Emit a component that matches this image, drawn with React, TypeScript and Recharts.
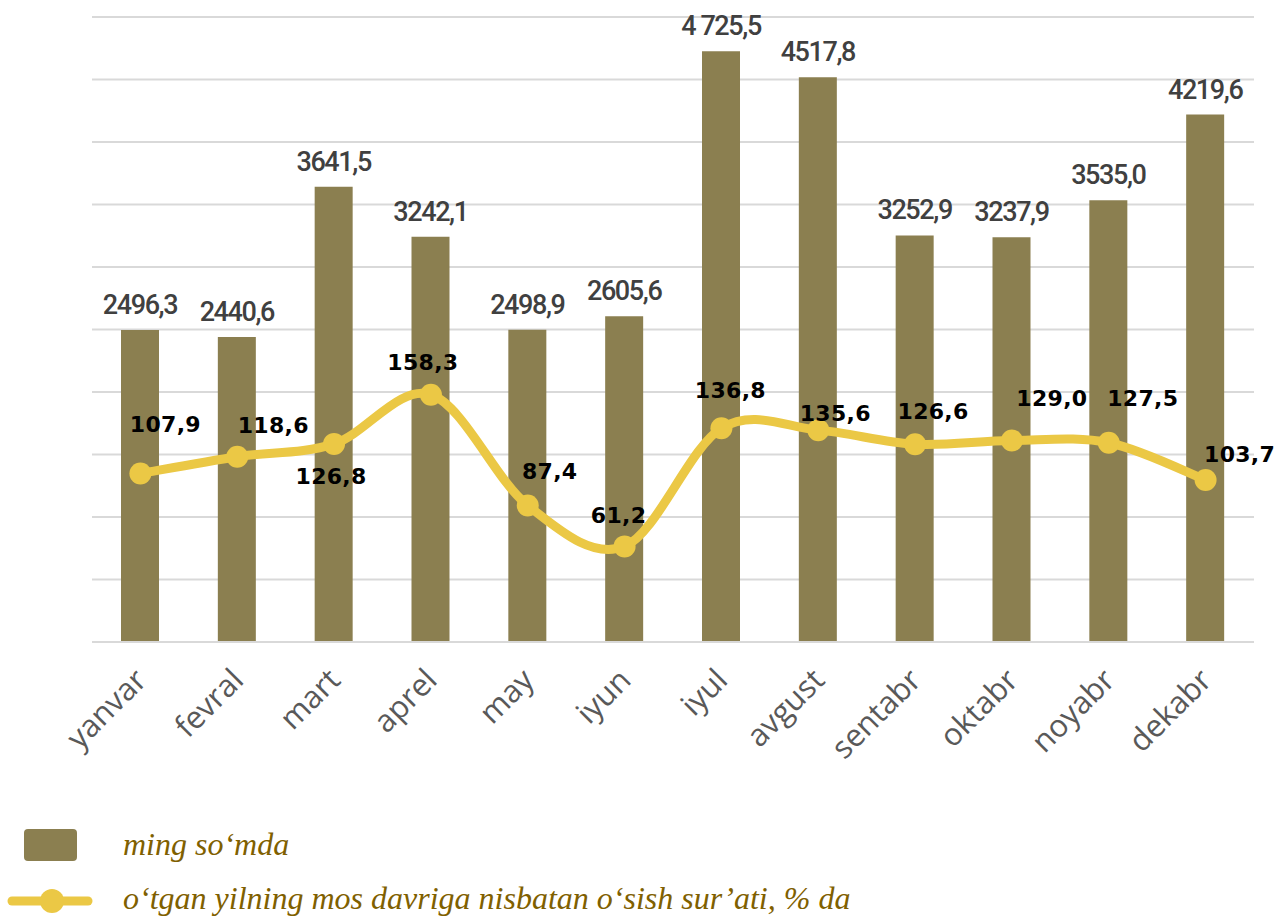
import * as React from "react";
import {
  ComposedChart,
  Bar,
  Line,
  XAxis,
  YAxis,
  CartesianGrid,
  LabelList,
} from "recharts";

const months = [
  "yanvar", "fevral", "mart", "aprel", "may", "iyun",
  "iyul", "avgust", "sentabr", "oktabr", "noyabr", "dekabr",
];
const amounts = [2496.3, 2440.6, 3641.5, 3242.1, 2498.9, 2605.6, 4725.5, 4517.8, 3252.9, 3237.9, 3535.0, 4219.6];
const amountLabels = [
  "2496,3", "2440,6", "3641,5", "3242,1", "2498,9", "2605,6",
  "4 725,5", "4517,8", "3252,9", "3237,9", "3535,0", "4219,6",
];
const growth = [107.9, 118.6, 126.8, 158.3, 87.4, 61.2, 136.8, 135.6, 126.6, 129.0, 127.5, 103.7];
const leftTicks = [0, 500, 1000, 1500, 2000, 2500, 3000, 3500, 4000, 4500, 5000];

// where each growth label sits relative to its point (dx, dy of the text centre)
const growthLabelShift: [number, number][] = [
  [25, -49], [36, -31], [-3, 33], [-8, -32], [22, -34], [-6, -31],
  [9, -38], [17, -17], [18, -33], [40, -42], [34, -44], [34, -25],
];

const BAR = "#8b7f50";
const LINE = "#ebc845";

const data = months.map((m, i) => ({ month: m, amount: amounts[i], growth: growth[i], label: amountLabels[i] }));

// smoothed line similar to the office-style smoothing (catmull-rom through the points)
const smoothCurve = (context: any) => {
  let pts: [number, number][] = [];
  return {
    areaStart() {},
    areaEnd() {},
    lineStart() {
      pts = [];
    },
    point(x: number, y: number) {
      pts.push([+x, +y]);
    },
    lineEnd() {
      if (!pts.length) return;
      context.moveTo(pts[0][0], pts[0][1]);
      const t = 1 / 6;
      for (let i = 0; i < pts.length - 1; i++) {
        const p0 = pts[Math.max(0, i - 1)];
        const p1 = pts[i];
        const p2 = pts[i + 1];
        const p3 = pts[Math.min(pts.length - 1, i + 2)];
        context.bezierCurveTo(
          p1[0] + (p2[0] - p0[0]) * t,
          p1[1] + (p2[1] - p0[1]) * t,
          p2[0] - (p3[0] - p1[0]) * t,
          p2[1] - (p3[1] - p1[1]) * t,
          p2[0],
          p2[1]
        );
      }
    },
  };
};

const MonthTick = (props: any) => {
  const { x, y, payload } = props;
  const tx = x + 8;
  const ty = y + 32;
  return (
    <text
      x={tx}
      y={ty}
      transform={`rotate(-45, ${tx}, ${ty})`}
      textAnchor="end"
      fill="#595959"
      fontSize={31}
      fontFamily="'Open Sans', 'Noto Sans', sans-serif"
    >
      {payload.value}
    </text>
  );
};

const AmountLabel = (props: any) => {
  const { x, y, width, index } = props;
  return (
    <text
      x={x + width / 2}
      y={y - 16}
      textAnchor="middle"
      fill="#404040"
      fontSize={27}
      fontWeight={500}
      fontFamily="'Roboto', sans-serif"
      letterSpacing={-1.4}
    >
      {amountLabels[index]}
    </text>
  );
};

const GrowthLabel = (props: any) => {
  const { x, y, index, value } = props;
  const [dx, dy] = growthLabelShift[index];
  return (
    <text
      x={x + dx}
      y={y + dy}
      textAnchor="middle"
      dominantBaseline="central"
      fill="#000"
      fontSize={22}
      fontWeight="bold"
      fontFamily="'DejaVu Sans', sans-serif"
      letterSpacing={0.3}
    >
      {Number(value).toFixed(1).replace(".", ",")}
    </text>
  );
};

const legendText: React.CSSProperties = {
  position: "absolute",
  left: 123,
  fontFamily: "'Liberation Serif', serif",
  fontStyle: "italic",
  fontSize: 32,
  lineHeight: "36px",
  color: "#7f6000",
  whiteSpace: "nowrap",
};

export default function App() {
  return (
    <div
      style={{
        position: "absolute",
        left: 0,
        top: 0,
        width: 1275,
        height: 918,
        background: "#fff",
        overflow: "hidden",
      }}
    >
      <ComposedChart
        width={1275}
        height={790}
        data={data}
        margin={{ top: 17, right: 21, left: 92, bottom: 0 }}
      >
        <CartesianGrid
          vertical={false}
          stroke="#d9d9d9"
          strokeWidth={2}
          yAxisId="left"
        />
        <XAxis
          dataKey="month"
          height={148}
          axisLine={{ stroke: "#d9d9d9", strokeWidth: 2 }}
          tickLine={false}
          tick={<MonthTick />}
          interval={0}
        />
        <YAxis yAxisId="left" hide domain={[0, 5000]} ticks={leftTicks} />
        <YAxis yAxisId="right" orientation="right" hide domain={[0, 400]} />
        <Bar yAxisId="left" dataKey="amount" fill={BAR} barSize={38} isAnimationActive={false}>
          <LabelList dataKey="amount" content={<AmountLabel />} />
        </Bar>
        <Line
          yAxisId="right"
          dataKey="growth"
          type={smoothCurve as any}
          stroke={LINE}
          strokeWidth={9}
          dot={{ r: 11, fill: LINE, stroke: "none" }}
          activeDot={false}
          isAnimationActive={false}
        >
          <LabelList dataKey="growth" content={<GrowthLabel />} />
        </Line>
      </ComposedChart>

      <div style={{ position: "absolute", left: 24, top: 829, width: 53, height: 32, background: BAR, borderRadius: 4 }} />
      <div style={{ ...legendText, top: 826 }}>ming so‘mda</div>

      <svg style={{ position: "absolute", left: 0, top: 880 }} width={100} height={40}>
        <line x1={12} y1={21} x2={88} y2={21} stroke={LINE} strokeWidth={9} strokeLinecap="round" />
        <circle cx={52} cy={21} r={12} fill={LINE} />
      </svg>
      <div style={{ ...legendText, top: 880 }}>
        o‘tgan yilning mos davriga nisbatan o‘sish sur’ati, % da
      </div>
    </div>
  );
}
